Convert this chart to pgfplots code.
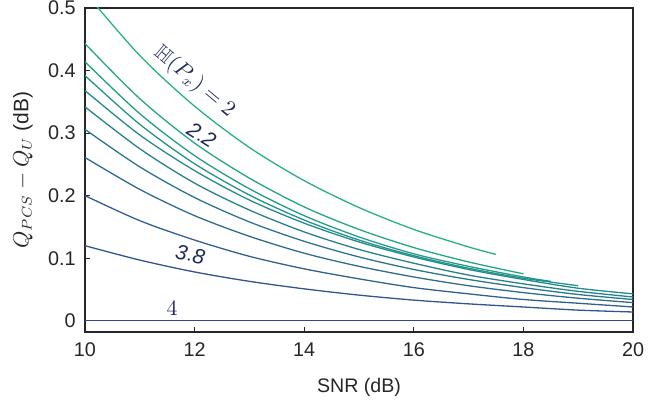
\documentclass[border=0pt]{standalone}
\usepackage{fontspec}
\setmainfont{Liberation Sans}
\usepackage{amssymb}
\usepackage{pgfplots}
\pgfplotsset{compat=1.18}
\definecolor{axc}{RGB}{38,38,38}
\definecolor{c0}{RGB}{40,178,126}
\definecolor{c1}{RGB}{34,166,133}
\definecolor{c2}{RGB}{34,157,136}
\definecolor{c3}{RGB}{33,147,139}
\definecolor{c4}{RGB}{36,138,141}
\definecolor{c5}{RGB}{39,128,142}
\definecolor{c6}{RGB}{43,118,142}
\definecolor{c7}{RGB}{46,108,142}
\definecolor{c8}{RGB}{50,96,142}
\definecolor{c9}{RGB}{52,84,142}
\definecolor{c10}{RGB}{50,72,145}
\definecolor{lab}{RGB}{30,40,90}
\begin{document}
\begin{tikzpicture}
\begin{axis}[
  scale only axis, width=274pt, height=162pt,
  xmin=10, xmax=20, ymin=-0.018, ymax=0.5,
  xtick={10,12,14,16,18,20},
  ytick={0,0.1,0.2,0.3,0.4,0.5},
  xtick pos=bottom, ytick pos=left,
  axis line style={axc, line width=0.65pt},
  tick style={axc, line width=0.6pt},
  tick align=inside, major tick length=2.5pt,
  /pgf/number format/assume math mode=true,
  /pgf/number format/fixed,
  /pgf/number format/precision=1,
  tick label style={font=\fontsize{9.9}{10}\selectfont, text=axc},
  xticklabel style={anchor=north, inner sep=0pt, yshift=-5pt},
  yticklabel style={anchor=east, inner sep=0pt, xshift=-4.5pt},
  xlabel={SNR (dB)},
  ylabel={$Q_{PCS}-Q_U$ (dB)},
  xlabel style={font=\fontsize{9.8}{10}\selectfont, text=axc, at={(axis description cs:0.5,0)}, anchor=north, inner sep=0pt, yshift=-23pt},
  ylabel style={font=\fontsize{10.5}{11}\selectfont, text=axc, at={([xshift=-26pt]axis description cs:0,0.5)}, anchor=south, inner sep=0pt},
  every axis plot/.append style={line width=0.65pt, smooth},
]
\addplot[c0] coordinates {(10,0.525) (11,0.424) (12,0.343) (13,0.277) (14,0.224) (15,0.181) (16,0.146) (17,0.118) (17.5,0.106)};
\addplot[c1] coordinates {(10,0.443) (11,0.355) (12,0.284) (13,0.228) (14,0.182) (15,0.146) (16,0.117) (17,0.094) (18,0.075)};
\addplot[c2] coordinates {(10,0.414) (11,0.331) (12,0.264) (13,0.211) (14,0.168) (15,0.134) (16,0.107) (17,0.087) (18,0.070) (18.5,0.063)};
\addplot[c3] coordinates {(10,0.392) (11,0.314) (12,0.251) (13,0.201) (14,0.161) (15,0.129) (16,0.104) (17,0.084) (18,0.068) (19,0.056)};
\addplot[c4] coordinates {(10,0.368) (11,0.297) (12,0.240) (13,0.193) (14,0.156) (15,0.126) (16,0.102) (17,0.082) (18,0.066) (19,0.052) (20,0.043)};
\addplot[c5] coordinates {(10,0.342) (11,0.275) (12,0.220) (13,0.177) (14,0.142) (15,0.114) (16,0.092) (17,0.073) (18,0.059) (19,0.047) (20,0.038)};
\addplot[c6] coordinates {(10,0.306) (11,0.246) (12,0.197) (13,0.158) (14,0.127) (15,0.102) (16,0.082) (17,0.066) (18,0.053) (19,0.042) (20,0.034)};
\addplot[c7] coordinates {(10,0.261) (11,0.210) (12,0.168) (13,0.135) (14,0.108) (15,0.087) (16,0.070) (17,0.056) (18,0.045) (19,0.036) (20,0.029)};
\addplot[c8] coordinates {(10,0.200) (11,0.160) (12,0.129) (13,0.103) (14,0.083) (15,0.067) (16,0.053) (17,0.043) (18,0.034) (19,0.028) (20,0.022)};
\addplot[c9] coordinates {(10,0.120) (11,0.097) (12,0.078) (13,0.063) (14,0.051) (15,0.041) (16,0.033) (17,0.027) (18,0.022) (19,0.017) (20,0.014)};
\addplot[c10] coordinates {(10,0) (12,0) (14,0) (16,0) (18,0) (20,0)};
\node[rotate=-40, text=lab, font=\fontsize{10.5}{11}\selectfont] at (axis cs:12.0,0.382) {$\mathbb{H}(P_x)=2$};
\node[rotate=-32, text=lab, font=\fontsize{10.5}{11}\selectfont] at (axis cs:12.13,0.297) {$\mathit{2.2}$};
\node[rotate=-12, text=lab, font=\fontsize{10.5}{11}\selectfont] at (axis cs:11.92,0.106) {$\mathit{3.8}$};
\node[text=lab, font=\fontsize{10.5}{11}\selectfont] at (axis cs:11.59,0.019) {$4$};
\end{axis}
\pgfresetboundingbox
\path ([shift={(-42.5pt,-35.5pt)}]current axis.south west) rectangle ([shift={(8.5pt,4pt)}]current axis.north east);
\end{tikzpicture}
\end{document}
